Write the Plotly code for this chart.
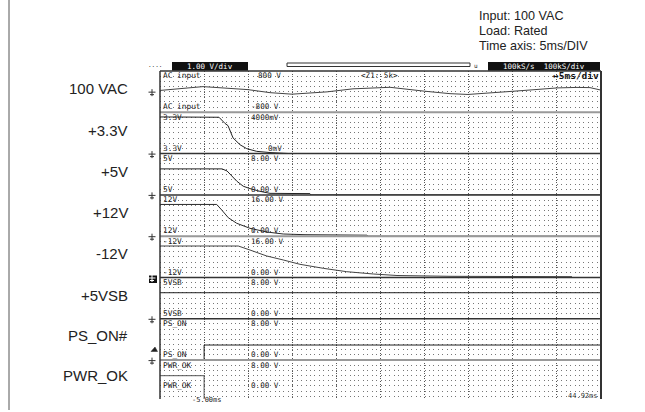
import plotly.graph_objects as go
from plotly.subplots import make_subplots

# ---------------- data (time in ms, 5 ms/div, -5 ms .. 45 ms) ----------------
T_START, T_END = -5.0, 45.0

ac_t = [-5.0, -0.12, 4.98, 7.47, 9.97, 12.01, 13.94, 16.88, 21.08, 24.93,
        27.88, 29.92, 32.41, 34.91, 37.52, 40.01, 42.28, 43.75, 45.0]
ac_v = [47, 195, 78, -39, -98, -59, -8, 109, 168, 20,
        -78, -109, -59, 12, 78, 144, 164, 156, 59]

v33_t = [-5.0, 1.69, 2.37, 2.71, 3.28, 4.07, 4.83, 5.96, 7.47, 9.74, 45.0]
v33_v = [3.55, 3.52, 2.92, 2.71, 1.52, 0.86, 0.48, 0.22, 0.10, 0.0, 0.0]

v5_t = [-5.0, 2.03, 2.60, 3.16, 3.70, 4.44, 5.20, 6.34, 7.47, 12.0, 12.1, 45.0]
v5_v = [5.04, 5.04, 4.64, 3.65, 2.67, 1.68, 1.22, 0.69, 0.30, 0.25, 0.0, 0.0]

v12_t = [-5.0, 1.43, 2.0, 2.74, 3.70, 5.20, 7.10, 8.98, 11.44, 18.47, 18.6, 45.0]
v12_v = [12.3, 12.3, 10.15, 7.17, 5.0, 3.06, 1.63, 0.85, 0.58, 0.39, 0.0, 0.0]

vn12_t = [-5.0, 3.88, 5.20, 7.10, 8.98, 10.87, 13.51, 16.17, 19.18, 21.87, 27.88, 41.71]
vn12_v = [12.2, 12.2, 10.65, 8.33, 6.78, 5.11, 3.56, 2.25, 1.36, 0.77, 0.46, 0.31]

vsb_t = [-5.0, 45.0]
vsb_v = [5.05, 5.05]

pson_t = [-5.0, 0.0, 0.0, 45.0]
pson_v = [0.0, 0.0, 2.92, 2.92]

pwrok_t = [-5.0, 0.0, 0.0, 45.0]
pwrok_v = [4.98, 4.98, 0.0, 0.0]

row_names = ["100 VAC", "+3.3V", "+5V", "+12V", "-12V", "+5VSB", "PS_ON#", "PWR_OK"]
ch_names = ["AC input", "3.3V", "5V", "12V", "-12V", "5VSB", "PS_ON", "PWR_OK"]
top_scale = ["800 V", "4000mV", "8.00 V", "16.00 V", "16.00 V", "8.00 V", "8.00 V", "8.00 V"]
bot_scale = ["-800 V", "0mV", "0.00 V", "0.00 V", "0.00 V", "0.00 V", "0.00 V", "0.00 V"]
y_ranges = [[-800, 800], [0, 4.0], [0, 8], [0, 16], [0, 16], [0, 8], [0, 8], [0.465, 8]]
y_dticks = [200, 0.5, 1, 2, 2, 1, 1, 1]

header_lines = ["Input: 100 VAC", "Load: Rated", "Time axis: 5ms/DIV"]

series = [(ac_t, ac_v, "#444"), (v33_t, v33_v, "#222"), (v5_t, v5_v, "#222"),
          (v12_t, v12_v, "#2a2a2a"), (vn12_t, vn12_v, "#444"), (vsb_t, vsb_v, "#222"),
          (pson_t, pson_v, "#222"), (pwrok_t, pwrok_v, "#555")]

# ---------------- geometry helpers (pixel -> paper) ----------------
W, H = 645, 412
L, R, T, B = 160, 601, 71, 399
PH = 41.3
edges = [T + PH * i for i in range(9)]


def px(x):
    return (x - L) / (R - L)


def py(y):
    return (B - y) / (B - T)


heights = [PH] * 7 + [B - edges[7]]
fig = make_subplots(rows=8, cols=1, shared_xaxes=True, vertical_spacing=0,
                    row_heights=heights)

for i, (t, v, c) in enumerate(series):
    fig.add_trace(go.Scatter(x=t, y=v, mode="lines", line=dict(color=c, width=1),
                             hoverinfo="skip"), row=i + 1, col=1)

fig.update_xaxes(range=[T_START, T_END], tick0=T_START, dtick=5, showgrid=True,
                 gridcolor="#555", gridwidth=1, griddash="1px,1.6px",
                 showticklabels=False, ticks="", zeroline=False, showline=False)
for i in range(8):
    fig.update_yaxes(range=y_ranges[i], dtick=y_dticks[i], tick0=0, showgrid=True,
                     gridcolor="#777", gridwidth=1, griddash="1px,3.41px",
                     showticklabels=False, ticks="", zeroline=False, showline=False,
                     row=i + 1, col=1)

shapes = []


def hline(y, color, width, x0=0, x1=1):
    shapes.append(dict(type="line", xref="paper", yref="paper", x0=x0, x1=x1,
                       y0=py(y), y1=py(y), line=dict(color=color, width=width),
                       layer="above"))


def seg(xa, ya, xb, yb, color="#333", width=1):
    shapes.append(dict(type="line", xref="paper", yref="paper", x0=px(xa), x1=px(xb),
                       y0=py(ya), y1=py(yb), line=dict(color=color, width=width),
                       layer="above"))


def rect(xa, ya, xb, yb, fill=None, line_color=None, width=1):
    shapes.append(dict(type="rect", xref="paper", yref="paper", x0=px(xa), x1=px(xb),
                       y0=py(yb), y1=py(ya), fillcolor=fill or "rgba(0,0,0,0)",
                       line=dict(color=line_color or "rgba(0,0,0,0)", width=width),
                       layer="above"))


# channel separators
sep_style = ["#999", "#333", "#333", "#999", "#333", "#333", "#999"]
for k in range(1, 8):
    hline(edges[k], sep_style[k - 1], 2 if sep_style[k - 1] == "#999" else 1.5)

# frame
hline(T, "#333", 1.5)
seg(L, T, L, B, "#333", 1.5)
seg(R, T, R, B, "#333", 2)

# page border at left
shapes.append(dict(type="line", xref="paper", yref="paper", x0=px(9), x1=px(9),
                   y0=py(0), y1=py(410), line=dict(color="#555", width=1)))


# ground markers at each channel's zero level
def ground(y0, color="#333"):
    seg(148.5, y0, 155.5, y0, color)
    seg(152, y0 - 3, 152, y0 + 4, color)
    seg(150, y0 + 2.5, 154, y0 + 2.5, color)


zero_levels = [(edges[0] + edges[1]) / 2, edges[2], edges[3], edges[4], edges[5],
               edges[6], edges[7]]
for k, z in enumerate(zero_levels):
    if k == 4:
        rect(149, z - 2, 157, z + 5.5, fill="#111")
        ground(z + 0.5, "white")
    else:
        ground(z + 0.5)

# trigger marker
shapes.append(dict(type="path", xref="paper", yref="paper",
                   path="M {a},{b} L {c},{b} L {d},{e} Z".format(
                       a=px(151), b=py(351.5), c=px(157.5), d=px(155), e=py(347)),
                   fillcolor="#222", line=dict(color="#222", width=0.5), layer="above"))

# header band of the scope
rect(172, 62, 248, 70.5, fill="#111")
rect(488, 62, 600, 70.5, fill="#111")
rect(287, 63, 470, 66.5, line_color="#333", width=1)

annotations = []


def text(x, y, s, size=8, color="#222", anchor="left", family="DejaVu Sans Mono"):
    annotations.append(dict(x=px(x), y=py(y), xref="paper", yref="paper", text=s,
                            showarrow=False, xanchor=anchor, yanchor="middle",
                            borderpad=0,
                            font=dict(family=family, size=size, color=color)))


text(147, 64.5, "....", 6)
text(210, 66.5, "1.00 V/div", 7.5, "white", "center")
text(544, 66.5, "100kS/s  100kS/div", 7.5, "white", "center")
text(473, 65, "u", 6)

# channel captions inside the grid
top_y = [75, 117.5, 158.5, 199.5, 241, 282.5, 323.5, 365]
bot_y = [106.5, 148.5, 189.5, 230.5, 272, 313, 354.5, 385]
for i in range(8):
    text(162, top_y[i], ch_names[i], 7.8)
    text(162, bot_y[i], ch_names[i], 7.8)
    text(257 if i == 0 else 250, top_y[i], top_scale[i], 7.6)
    text(267 if i == 1 else 250, bot_y[i], bot_scale[i], 7.6)

text(360, 75, "&lt;Z1: 5k&gt;", 7.6)
text(600, 75.5, "<b>↔5ms/div</b>", 9.5, "#111", "right")
text(191, 399.5, "-5.00ms", 7)
text(599, 395.5, "44.92ms", 7, "#333", "right")

# row labels on the left
label_y = [88.8, 130, 171.5, 212, 253.3, 295, 335, 375]
for name, y in zip(row_names, label_y):
    text(129, y, name, 15, "#222", "right", "Liberation Sans, Arial, sans-serif")

# test conditions
for k, s in enumerate(header_lines):
    text(477.5, 15.5 + 15.3 * k, s, 12.6, "#222", "left", "Liberation Sans, Arial, sans-serif")

fig.update_layout(width=W, height=H, margin=dict(l=L, r=W - R, t=T, b=H - B),
                  plot_bgcolor="white", paper_bgcolor="white", showlegend=False,
                  shapes=shapes, annotations=annotations)

fig.write_html("out.html")
